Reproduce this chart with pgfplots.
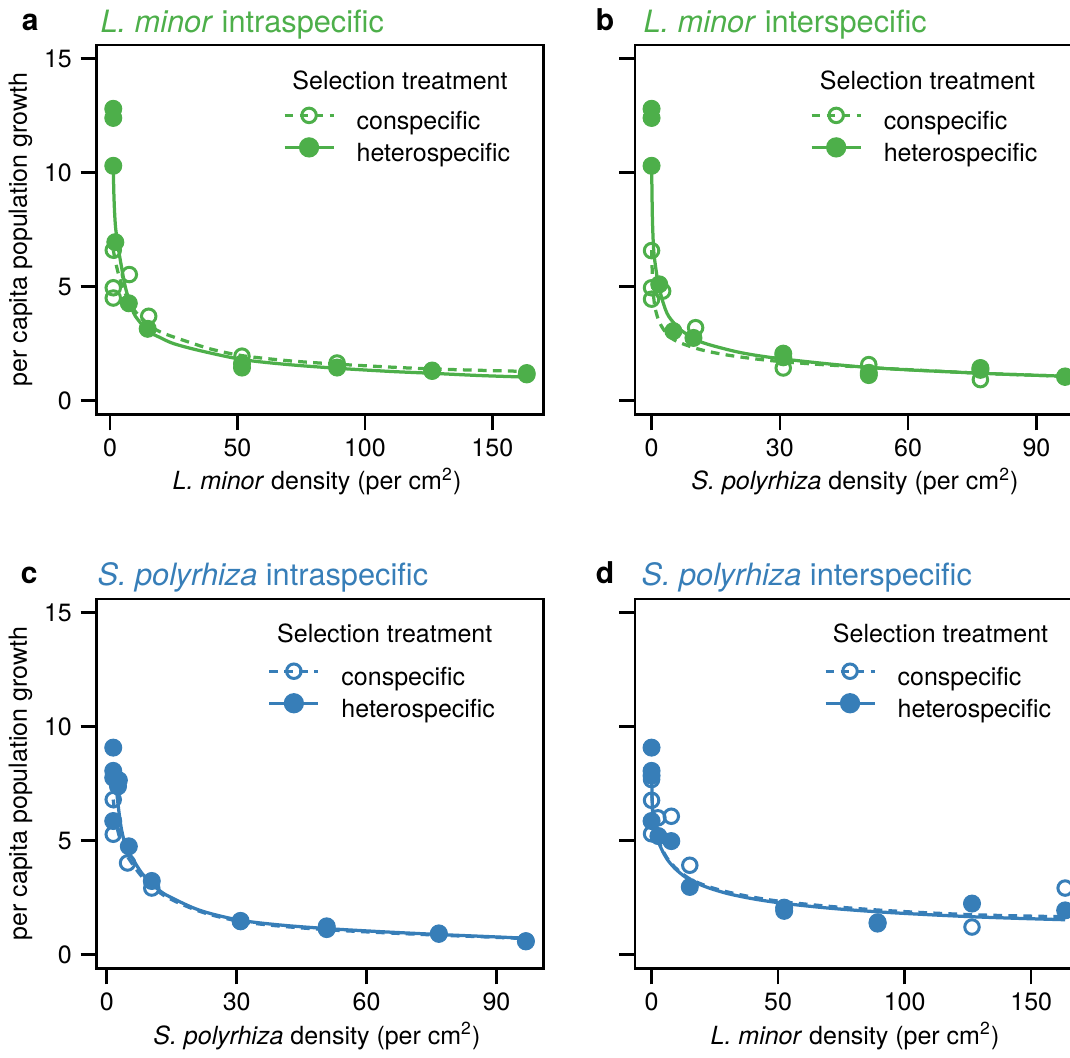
\documentclass[border=0pt]{standalone}
\usepackage{pgfplots}
\pgfplotsset{compat=1.18}
\usepackage{fontspec}
\setmainfont{TeX Gyre Heros}
\definecolor{cgreen}{RGB}{77,175,74}
\definecolor{cblue}{RGB}{55,126,184}
\newcommand\fs{\fontsize{10}{12}\selectfont}
\pgfplotsset{
  panel/.style={
    scale only axis, width=178.64pt, height=147.72pt,
    anchor=south west,
    ymin=-0.6, ymax=15.6,
    ytick={0,5,10,15},
    axis line style={line width=1pt},
    every tick/.style={line width=1pt, black},
    tick align=outside, tick pos=left,
    major tick length=6.4pt,
    tick label style={font=\fs},
    /pgf/number format/assume math mode=true,
    clip marker paths=true,
    legend cell align=left,
    legend style={draw=none, fill=none, inner sep=0pt, outer sep=0pt,
      column sep=8.6pt, row sep=1.6pt, font=\fs, anchor=north west,
      nodes={inner sep=0pt, text height=7.2pt, text depth=2pt}},
    legend image code/.code={\draw[mark repeat=2,mark phase=2,##1] plot coordinates {(0pt,3.2pt) (9.8pt,3.2pt) (19.6pt,3.2pt)};},
  },
  opn/.style={only marks, mark=o, #1, mark size=2.9pt, mark options={line width=1.2pt}},
  fil/.style={only marks, mark=*, #1, mark size=3.4pt, mark options={draw=none}},
  sol/.style={#1, line width=1.3pt, smooth, no marks},
  dsh/.style={#1, line width=1.3pt, smooth, no marks, dash pattern=on 3.5pt off 2.5pt},
}
\begin{document}
\begin{tikzpicture}
\useasboundingbox (0,0) rectangle (428pt,422.8pt);

% ---------------- panel a ----------------
\begin{axis}[panel, at={(38.68pt,257.08pt)}, xmin=-5.2, xmax=170, xtick={0,50,100,150},
  legend style={at={(rel axis cs:0.417,0.829)}}]
\addlegendimage{cgreen, line width=1.3pt, dash pattern=on 3.5pt off 2.5pt, mark=o, mark size=2.9pt, mark options={solid, line width=1.2pt}}
\addlegendentry{conspecific}
\addlegendimage{cgreen, line width=1.3pt, mark=*, mark size=3.4pt, mark options={solid, draw=none}}
\addlegendentry{heterospecific}
\addplot[opn=cgreen, forget plot] coordinates {(1.3,6.6) (1.3,4.95) (1.3,4.5) (7.6,5.53) (15.2,3.7) (51.8,1.95) (89.1,1.65) (126.4,1.33) (163.5,1.22)};
\addplot[fil=cgreen, forget plot] coordinates {(1.3,12.8) (1.3,12.4) (1.3,10.3) (2.1,6.95) (7.4,4.27) (14.8,3.15) (51.8,1.45) (51.8,1.62) (89.1,1.45) (126.4,1.3) (163.5,1.15)};
\addplot[dsh=cgreen, forget plot] coordinates {(1.3,6.6) (2,6.2) (3,5.7) (4,5.3) (6,4.7) (8,4.25) (10,3.9) (15,3.35) (20,3.0) (30,2.6) (40,2.25) (52,1.97) (70,1.75) (89,1.6) (110,1.47) (126,1.39) (145,1.33) (163.5,1.28)};
\addplot[sol=cgreen, forget plot] coordinates {(1.3,10.3) (1.5,9.2) (1.8,8.3) (2.2,7.6) (3,6.9) (4,6.2) (6,5.0) (8,4.25) (10,3.7) (15,3.05) (20,2.75) (25,2.5) (35,2.2) (52,1.8) (70,1.58) (89,1.42) (110,1.28) (126,1.2) (145,1.1) (163.5,1.03)};
\end{axis}

% ---------------- panel b ----------------
\begin{axis}[panel, at={(254pt,257.08pt)}, xmin=-3.87, xmax=100.57, xtick={0,30,60,90}, yticklabels={},
  legend style={at={(rel axis cs:0.392,0.829)}}]
\addlegendimage{cgreen, line width=1.3pt, dash pattern=on 3.5pt off 2.5pt, mark=o, mark size=2.9pt, mark options={solid, line width=1.2pt}}
\addlegendentry{conspecific}
\addlegendimage{cgreen, line width=1.3pt, mark=*, mark size=3.4pt, mark options={solid, draw=none}}
\addlegendentry{heterospecific}
\addplot[opn=cgreen, forget plot] coordinates {(0,6.58) (0,4.95) (0,4.45) (2.6,4.8) (10.3,3.2) (30.8,1.43) (50.8,1.58) (76.9,0.92) (96.7,1.07)};
\addplot[fil=cgreen, forget plot] coordinates {(0,12.8) (0,12.4) (0,10.3) (1.8,5.1) (5.1,3.05) (9.8,2.75) (30.8,2.06) (30.8,1.9) (50.8,1.12) (50.8,1.22) (76.9,1.43) (76.9,1.35) (96.7,1.04)};
\addplot[dsh=cgreen, forget plot] coordinates {(0.02,6.6) (0.3,5.0) (0.9,4.0) (2.3,3.27) (5.1,2.68) (11.4,2.24) (19.4,1.95) (31,1.7) (51,1.45) (77,1.2) (96.7,1.07)};
\addplot[sol=cgreen, forget plot] coordinates {(0.02,10.3) (0.2,8.0) (0.5,6.6) (1,5.8) (1.6,5.1) (2.7,4.3) (4,3.7) (6.7,3.12) (10,2.72) (13,2.48) (21,2.1) (31,1.82) (51,1.45) (77,1.2) (96.7,1.07)};
\end{axis}

% ---------------- panel c ----------------
\begin{axis}[panel, at={(38.68pt,35.48pt)}, xmin=-2.32, xmax=100.82, xtick={0,30,60,90},
  legend style={at={(rel axis cs:0.383,0.824)}}]
\addlegendimage{cblue, line width=1.3pt, dash pattern=on 3.5pt off 2.5pt, mark=o, mark size=2.9pt, mark options={solid, line width=1.2pt}}
\addlegendentry{conspecific}
\addlegendimage{cblue, line width=1.3pt, mark=*, mark size=3.4pt, mark options={solid, draw=none}}
\addlegendentry{heterospecific}
\addplot[opn=cblue, forget plot] coordinates {(1.5,6.8) (1.5,5.28) (4.8,4.02) (10.4,2.92) (30.9,1.45) (50.8,1.15) (76.7,0.9) (96.8,0.6)};
\addplot[fil=cblue, forget plot] coordinates {(1.5,9.08) (1.5,8.06) (1.5,7.76) (2.8,7.65) (2.6,7.38) (1.5,5.86) (5.1,4.75) (10.4,3.23) (30.9,1.48) (50.8,1.24) (50.8,1.12) (76.7,0.93) (96.8,0.58)};
\addplot[dsh=cblue, forget plot] coordinates {(1.5,6.8) (2,6.0) (2.6,5.4) (3.4,4.9) (4.5,4.4) (6.2,3.9) (8,3.45) (10.4,3.0) (13,2.62) (16,2.32) (20,2.0) (24,1.75) (31,1.45) (40,1.25) (51,1.09) (64,0.96) (77,0.85) (87,0.78) (96.8,0.7)};
\addplot[sol=cblue, forget plot] coordinates {(2,7.7) (2.6,6.6) (3.4,5.5) (4.5,4.7) (6.2,4.14) (8,3.6) (10.4,3.1) (13,2.7) (16,2.4) (20,2.05) (24,1.8) (31,1.5) (40,1.3) (51,1.14) (64,1.0) (77,0.88) (87,0.8) (96.8,0.72)};
\end{axis}

% ---------------- panel d ----------------
\begin{axis}[panel, at={(254pt,35.48pt)}, xmin=-6.54, xmax=169.9, xtick={0,50,100,150}, yticklabels={},
  legend style={at={(rel axis cs:0.423,0.824)}}]
\addlegendimage{cblue, line width=1.3pt, dash pattern=on 3.5pt off 2.5pt, mark=o, mark size=2.9pt, mark options={solid, line width=1.2pt}}
\addlegendentry{conspecific}
\addlegendimage{cblue, line width=1.3pt, mark=*, mark size=3.4pt, mark options={solid, draw=none}}
\addlegendentry{heterospecific}
\addplot[opn=cblue, forget plot] coordinates {(0,7.68) (0,6.77) (0,5.3) (2.5,6.0) (7.8,6.07) (15.1,3.92) (52.4,2.0) (89.3,1.4) (126.6,1.21) (163.4,2.92)};
\addplot[fil=cblue, forget plot] coordinates {(0,9.08) (0,8.06) (0,7.85) (0,5.86) (2.7,5.2) (7.8,4.98) (15.1,2.97) (52.4,1.92) (52.4,2.06) (89.3,1.36) (89.3,1.42) (126.6,2.24) (163.4,1.94)};
\addplot[dsh=cblue, forget plot] coordinates {(0.02,7.7) (0.3,6.5) (0.8,5.8) (1.5,5.4) (2.7,5.0) (4.5,4.55) (6.7,4.15) (10,3.75) (15,3.33) (22,3.0) (30,2.75) (40,2.52) (52,2.32) (70,2.12) (89,1.96) (108,1.84) (127,1.75) (145,1.7) (163.4,1.66)};
\addplot[sol=cblue, forget plot] coordinates {(0.02,7.9) (0.3,6.6) (0.8,5.8) (1.5,5.35) (2.7,4.95) (4.5,4.5) (6.7,4.1) (10,3.7) (15,3.28) (22,2.95) (30,2.68) (40,2.45) (52,2.25) (70,2.04) (89,1.88) (108,1.76) (127,1.66) (145,1.59) (163.4,1.53)};
\end{axis}

% ---------------- texts ----------------
\node[anchor=base west, font=\fontsize{12}{14}\selectfont\bfseries] at (5.2pt,410.4pt) {a};
\node[anchor=base west, font=\fontsize{12}{14}\selectfont\bfseries] at (234.8pt,410.4pt) {b};
\node[anchor=base west, font=\fontsize{12}{14}\selectfont\bfseries] at (4.8pt,189.2pt) {c};
\node[anchor=base west, font=\fontsize{12}{14}\selectfont\bfseries] at (234.8pt,189.2pt) {d};

\node[anchor=base west, inner sep=0pt, font=\fontsize{12.3}{14}\selectfont, text=cgreen] at (40pt,409.6pt) {\textit{L. minor} intraspecific};
\node[anchor=base west, inner sep=0pt, font=\fontsize{12.3}{14}\selectfont, text=cgreen] at (257.2pt,409.6pt) {\textit{L. minor} interspecific};
\node[anchor=base west, inner sep=0pt, font=\fontsize{12.3}{14}\selectfont, text=cblue] at (38.8pt,188.4pt) {\textit{S. polyrhiza} intraspecific};
\node[anchor=base west, inner sep=0pt, font=\fontsize{12.3}{14}\selectfont, text=cblue] at (256.4pt,188.4pt) {\textit{S. polyrhiza} interspecific};

\node[anchor=base, inner sep=0pt, font=\fs] at (160pt,387.08pt) {Selection treatment};
\node[anchor=base, inner sep=0pt, font=\fs] at (371pt,387.08pt) {Selection treatment};
\node[anchor=base, inner sep=0pt, font=\fs] at (153.9pt,165.72pt) {Selection treatment};
\node[anchor=base, inner sep=0pt, font=\fs] at (376.2pt,165.72pt) {Selection treatment};

\node[anchor=base, inner sep=0pt, rotate=90, font=\fs] at (10.8pt,330.94pt) {per capita population growth};
\node[anchor=base, inner sep=0pt, rotate=90, font=\fs] at (10.8pt,109.34pt) {per capita population growth};

\node[anchor=base, inner sep=0pt, font=\fs] at (126.8pt,226.8pt) {\textit{L. minor} density (per cm\textsuperscript{2})};
\node[anchor=base, inner sep=0pt, font=\fs] at (342pt,226.8pt) {\textit{S. polyrhiza} density (per cm\textsuperscript{2})};
\node[anchor=base, inner sep=0pt, font=\fs] at (126.8pt,5.2pt) {\textit{S. polyrhiza} density (per cm\textsuperscript{2})};
\node[anchor=base, inner sep=0pt, font=\fs] at (342pt,5.2pt) {\textit{L. minor} density (per cm\textsuperscript{2})};
\end{tikzpicture}
\end{document}
